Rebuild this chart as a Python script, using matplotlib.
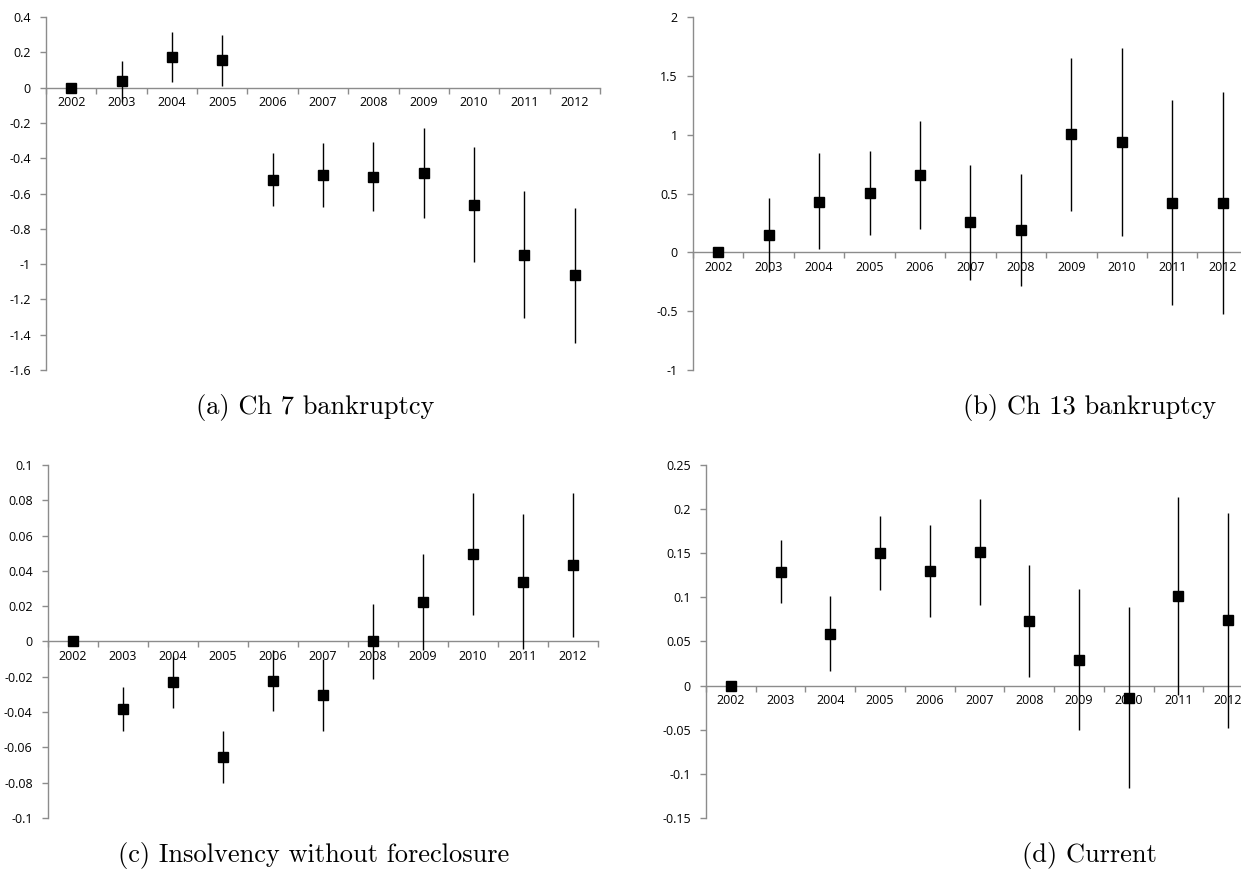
import numpy as np
import matplotlib
matplotlib.use("Agg")
import matplotlib.pyplot as plt
from matplotlib.ticker import FixedLocator, NullFormatter

# Years on the category axis
years = ["2002", "2003", "2004", "2005", "2006", "2007", "2008", "2009", "2010", "2011", "2012"]

# (a) Ch 7 bankruptcy: point estimate, upper and lower bound
ch7_est = [0, 0.038, 0.172, 0.155, -0.525, -0.496, -0.506, -0.481, -0.667, -0.947, -1.064]
ch7_hi = [0, 0.153, 0.313, 0.299, -0.373, -0.312, -0.309, -0.229, -0.339, -0.587, -0.680]
ch7_lo = [0, -0.080, 0.034, 0.011, -0.672, -0.676, -0.700, -0.737, -0.989, -1.305, -1.449]

# (b) Ch 13 bankruptcy
ch13_est = [0, 0.148, 0.429, 0.506, 0.656, 0.256, 0.190, 1.006, 0.935, 0.423, 0.423]
ch13_hi = [0, 0.460, 0.844, 0.864, 1.116, 0.744, 0.662, 1.656, 1.739, 1.298, 1.361]
ch13_lo = [0, -0.164, 0.026, 0.150, 0.199, -0.236, -0.284, 0.355, 0.139, -0.449, -0.520]

# (c) Insolvency without foreclosure
insol_est = [0, -0.0380, -0.0229, -0.0653, -0.0221, -0.0301, 0.0, 0.0223, 0.0496, 0.0339, 0.0433]
insol_hi = [0, -0.0260, -0.0080, -0.0507, -0.0047, -0.0100, 0.0214, 0.0496, 0.0840, 0.0725, 0.0840]
insol_lo = [0, -0.0507, -0.0375, -0.0800, -0.0394, -0.0507, -0.0214, -0.0050, 0.0150, -0.0040, 0.0028]

# (d) Current
cur_est = [0, 0.1287, 0.0590, 0.1503, 0.1298, 0.1514, 0.0730, 0.0288, -0.0136, 0.1010, 0.0738]
cur_hi = [0, 0.1646, 0.1018, 0.1923, 0.1820, 0.2112, 0.1366, 0.1094, 0.0890, 0.2139, 0.1960]
cur_lo = [0, 0.0935, 0.0170, 0.1086, 0.0780, 0.0916, 0.0098, -0.0507, -0.1160, -0.0110, -0.0480]

captions = ["(a) Ch 7 bankruptcy", "(b) Ch 13 bankruptcy",
            "(c) Insolvency without foreclosure", "(d) Current"]

panels = [
    (ch7_est, ch7_hi, ch7_lo, -1.6, 0.4, 0.2),
    (ch13_est, ch13_hi, ch13_lo, -1.0, 2.0, 0.5),
    (insol_est, insol_hi, insol_lo, -0.1, 0.1, 0.02),
    (cur_est, cur_hi, cur_lo, -0.15, 0.25, 0.05),
]

# axes rectangles in figure fraction (left, bottom, width, height)
rects = [
    [0.0371, 0.5742, 0.4464, 0.4062],
    [0.5584, 0.5742, 0.4472, 0.4062],
    [0.0387, 0.0587, 0.4432, 0.4062],
    [0.5689, 0.0587, 0.4408, 0.4062],
]
caption_x = [0.254, 0.878, 0.253, 0.878]


def fmt(v):
    if abs(v) < 1e-9:
        return "0"
    return "{:g}".format(v)


grey = "#8c8c8c"
fig = plt.figure(figsize=(12.41, 8.69), dpi=100)

for i, (est, hi, lo, ymin, ymax, step) in enumerate(panels):
    ax = fig.add_axes(rects[i])
    x = np.arange(len(years))
    est = np.array(est)
    yerr = [est - np.array(lo), np.array(hi) - est]
    ax.errorbar(x, est, yerr=yerr, fmt="s", color="black", ms=7,
                elinewidth=1.0, capsize=0, zorder=4, clip_on=False)

    ax.set_xlim(-0.5, len(years) - 0.5)
    ax.set_ylim(ymin, ymax)

    for s in ["top", "right"]:
        ax.spines[s].set_visible(False)
    ax.spines["bottom"].set_position(("data", 0))
    for s in ["left", "bottom"]:
        ax.spines[s].set_color(grey)
        ax.spines[s].set_linewidth(1.0)

    ax.set_xticks(x)
    ax.set_xticklabels(years, fontsize=9, family="Open Sans")
    ax.xaxis.set_minor_locator(FixedLocator(np.arange(-0.5, len(years), 1.0)))
    ax.xaxis.set_minor_formatter(NullFormatter())
    ax.tick_params(axis="x", which="major", length=0, pad=6)
    ax.tick_params(axis="x", which="minor", length=4, direction="out",
                   color=grey, width=1.0)

    yt = np.round(np.arange(ymin, ymax + step / 2, step), 4)
    ax.set_yticks(yt)
    ax.set_yticklabels([fmt(v) for v in yt], fontsize=9, family="Open Sans")
    ax.tick_params(axis="y", length=4, direction="out", color=grey, width=1.0, pad=7)

    fig.text(caption_x[i], rects[i][1] - 0.0426, captions[i],
             ha="center", va="center", fontsize=19, family="cmr10")

fig.savefig("out.png", dpi=100)
